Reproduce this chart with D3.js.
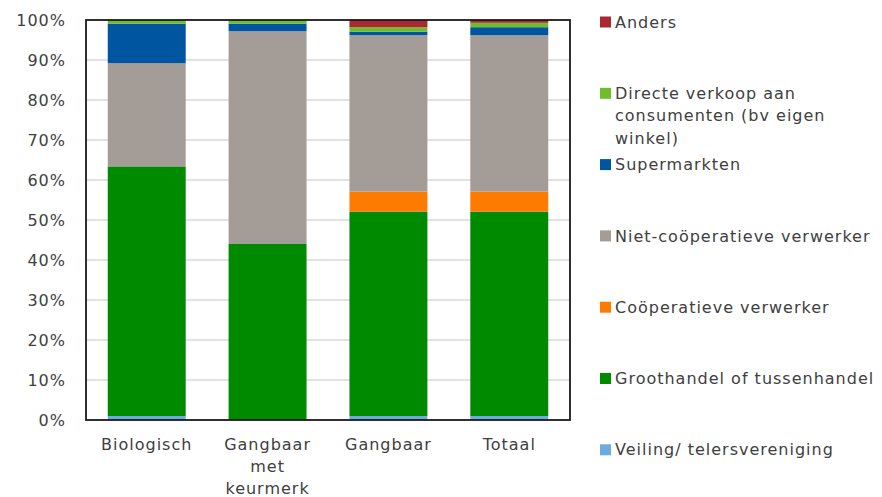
<!DOCTYPE html>
<html>
<head>
<meta charset="utf-8">
<script src="https://cdn.jsdelivr.net/npm/d3@7"></script>
<style>
  body { margin: 0; background: #fff; }
  svg text { font-family: "DejaVu Sans", sans-serif; fill: #404040; letter-spacing: 1px; }
</style>
</head>
<body>
<div id="chart"></div>
<script>
// categories and series (percent of total, per bar)
var categories = ["Biologisch", "Gangbaar met keurmerk", "Gangbaar", "Totaal"];
var categoryLines = [["Biologisch"], ["Gangbaar", "met", "keurmerk"], ["Gangbaar"], ["Totaal"]];

var seriesNames = [
	"Veiling/ telersvereniging",
	"Groothandel of tussenhandel",
	"Coöperatieve verwerker",
	"Niet-coöperatieve verwerker",
	"Supermarkten",
	"Directe verkoop aan consumenten (bv eigen winkel)",
	"Anders"
];
var legendLines = [
	["Veiling/ telersvereniging"],
	["Groothandel of tussenhandel"],
	["Coöperatieve verwerker"],
	["Niet-coöperatieve verwerker"],
	["Supermarkten"],
	["Directe verkoop aan", "consumenten (bv eigen", "winkel)"],
	["Anders"]
];
var seriesColors = ["#6caae0", "#008a00", "#ff7b00", "#a49c96", "#0055a0", "#6fbd2a", "#aa2832"];

var veiling     = [1.0, 0.0, 1.0, 1.0];
var groothandel = [62.4, 44.0, 51.1, 51.1];
var coop        = [0.0, 0.0, 5.0, 5.0];
var nietCoop    = [25.8, 53.2, 39.1, 39.1];
var supermarkt  = [9.9, 1.9, 0.9, 2.0];
var directe     = [0.9, 0.9, 1.1, 1.1];
var anders      = [0.0, 0.0, 1.8, 0.7];

var yTicks = [0, 10, 20, 30, 40, 50, 60, 70, 80, 90, 100];

var seriesValues = [veiling, groothandel, coop, nietCoop, supermarkt, directe, anders];

var rows = categories.map(function(c, i) {
	var r = { category: c };
	seriesNames.forEach(function(s, j) { r[s] = seriesValues[j][i]; });
	return r;
});

var width = 882, height = 497;
var margin = { top: 20, right: 312, bottom: 77, left: 86 };
var plotW = width - margin.left - margin.right;
var plotH = height - margin.top - margin.bottom;

var svg = d3.select("#chart").append("svg")
	.attr("width", width)
	.attr("height", height);

var g = svg.append("g")
	.attr("transform", "translate(" + margin.left + "," + margin.top + ")");

var x = d3.scaleBand()
	.domain(categories)
	.range([0, plotW])
	.paddingInner(0.355)
	.paddingOuter(0.18);

var y = d3.scaleLinear()
	.domain([0, 100])
	.range([plotH, 0]);

// gridlines
g.append("g")
	.selectAll("line")
	.data(yTicks.slice(1, -1))
	.enter().append("line")
	.attr("x1", 0)
	.attr("x2", plotW)
	.attr("y1", function(d) { return y(d); })
	.attr("y2", function(d) { return y(d); })
	.attr("stroke", "#d9d9d9")
	.attr("stroke-width", 1.5);

var stack = d3.stack().keys(seriesNames);
var layers = stack(rows);

g.append("g")
	.selectAll("g")
	.data(layers)
	.enter().append("g")
	.attr("fill", function(d, i) { return seriesColors[i]; })
	.selectAll("rect")
	.data(function(d) { return d; })
	.enter().append("rect")
	.attr("x", function(d) { return x(d.data.category); })
	.attr("y", function(d) { return y(d[1]); })
	.attr("width", x.bandwidth())
	.attr("height", function(d) { return y(d[0]) - y(d[1]); });

// frame
g.append("rect")
	.attr("x", 0)
	.attr("y", 0)
	.attr("width", plotW)
	.attr("height", plotH)
	.attr("fill", "none")
	.attr("stroke", "#1a1a1a")
	.attr("stroke-width", 1.8);

// y axis
var yAxis = g.append("g")
	.call(d3.axisLeft(y).tickValues(yTicks).tickSize(0).tickPadding(20)
		.tickFormat(function(d) { return d + "%"; }));
yAxis.select(".domain").remove();
yAxis.selectAll("text")
	.style("font-size", "16px")
	.attr("dy", "0.35em");

// x axis labels
var xLab = g.append("g")
	.selectAll("text")
	.data(categories)
	.enter().append("text")
	.attr("text-anchor", "middle")
	.attr("x", function(d) { return x(d) + x.bandwidth() / 2; })
	.attr("y", plotH + 24)
	.style("font-size", "16px");
xLab.each(function(d, i) {
	var t = d3.select(this);
	categoryLines[i].forEach(function(line, k) {
		t.append("tspan")
			.attr("x", x(d) + x.bandwidth() / 2)
			.attr("dy", k === 0 ? "0.35em" : 22)
			.text(line);
	});
});

// legend, top entry is the last series
var legend = svg.append("g")
	.attr("transform", "translate(600,0)");
var legendOrder = d3.range(seriesNames.length).reverse();
legendOrder.forEach(function(si, k) {
	var cy = 22 + k * 71.3;
	legend.append("rect")
		.attr("x", 0)
		.attr("y", cy - 5.5)
		.attr("width", 11)
		.attr("height", 11)
		.attr("fill", seriesColors[si]);
	var t = legend.append("text")
		.attr("x", 15)
		.attr("y", cy)
		.style("font-size", "16px");
	legendLines[si].forEach(function(line, j) {
		t.append("tspan")
			.attr("x", 15)
			.attr("dy", j === 0 ? "0.35em" : 22.5)
			.text(line);
	});
});
</script>
</body>
</html>
